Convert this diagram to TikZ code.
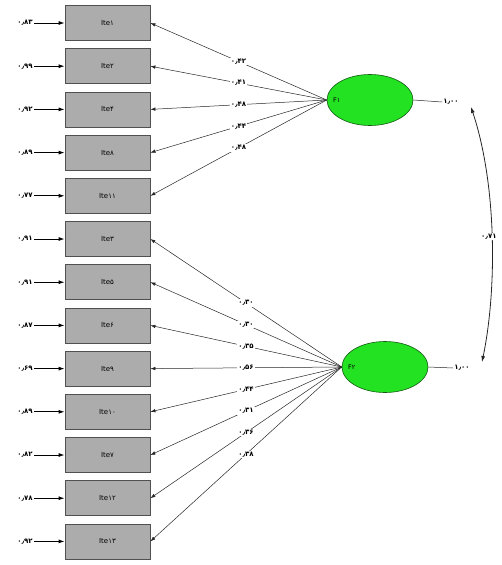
\documentclass[tikz,border=0pt]{standalone}
\usepackage{fontspec}
\newfontfamily\fa{DejaVu Sans}
\usetikzlibrary{shapes.geometric,arrows.meta}
\definecolor{boxfill}{RGB}{172,172,172}
\definecolor{boxline}{RGB}{80,80,80}
\definecolor{latfill}{RGB}{34,226,34}
\definecolor{latline}{RGB}{20,90,20}
\begin{document}
\begin{tikzpicture}[x=1pt,y=-1pt,
  obs/.style={draw=boxline, line width=0.8pt, fill=boxfill, minimum width=85pt, minimum height=35pt, inner sep=0pt, font=\fa\fontsize{7}{8}\selectfont},
  lat/.style={ellipse, draw=latline, line width=0.6pt, fill=latfill, minimum width=86pt, minimum height=51pt, inner sep=0pt},
  errlab/.style={inner sep=1pt, font=\fa\bfseries\fontsize{7}{8}\selectfont},
  lab/.style={fill=white, inner sep=1pt, font=\fa\bfseries\fontsize{7}{8}\selectfont},
  arr/.style={-{Latex[length=5pt,width=3.5pt]}, line width=0.5pt, draw=black!85},
  errarr/.style={-{Latex[length=6pt,width=4pt]}, line width=0.9pt, draw=black}
]
\useasboundingbox (0,0) rectangle (502,565);

% observed variables
\foreach \i/\t in {1/Ite۱,2/Ite۲,3/Ite۴,4/Ite۸,5/Ite۱۱,6/Ite۳,7/Ite۵,8/Ite۶,9/Ite۹,10/Ite۱۰,11/Ite۷,12/Ite۱۲,13/Ite۱۳}{
  \node[obs] (b\i) at (107.5,{23+43.2*(\i-1)}) {\t};
}

% error variances
\foreach \i/\v in {1/۰٫۸۳,2/۰٫۹۹,3/۰٫۹۲,4/۰٫۸۹,5/۰٫۷۷,6/۰٫۹۱,7/۰٫۹۱,8/۰٫۸۷,9/۰٫۶۹,10/۰٫۸۹,11/۰٫۸۲,12/۰٫۷۸,13/۰٫۹۲}{
  \node[errlab] (e\i) at (25,{23+43.2*(\i-1)}) {\v};
  \draw[errarr] (e\i.east) -- (b\i.west);
}

% latent variables
\node[lat, label={[anchor=west,xshift=3pt,font=\fa\fontsize{6.5}{7}\selectfont]west:F۱}] (F1) at (370,100) {};
\node[lat, label={[anchor=west,xshift=3pt,font=\fa\fontsize{6.5}{7}\selectfont]west:F۲}] (F2) at (385,367) {};

% loadings
\foreach \i/\v in {1/۰٫۴۲,2/۰٫۴۱,3/۰٫۴۸,4/۰٫۴۴,5/۰٫۴۸}{
  \draw[arr] (F1.west) -- node[lab,pos=0.5]{\v} (b\i.east);
}
\foreach \i/\v in {6/۰٫۳۰,7/۰٫۳۰,8/۰٫۳۵,9/۰٫۵۶,10/۰٫۴۴,11/۰٫۳۱,12/۰٫۳۶,13/۰٫۳۸}{
  \draw[arr] (F2.west) -- node[lab,pos=0.5]{\v} (b\i.east);
}

% latent variances and correlation
\node[lab] (v1) at (451,102) {۱٫۰۰};
\node[lab] (v2) at (462,368) {۱٫۰۰};
\draw[line width=0.5pt, draw=black!85] (F1.east) -- (v1.west);
\draw[line width=0.5pt, draw=black!85] (F2.east) -- (v2.west);
\coordinate (c1) at (471,107);
\coordinate (c2) at (482,362);
\draw[{Latex[length=6pt,width=4pt]}-{Latex[length=6pt,width=4pt]}, line width=0.8pt, draw=black!85]
  (c1) .. controls (497,185) and (497,290) .. node[lab,pos=0.5,xshift=-3pt]{۰٫۷۱} (c2);
\end{tikzpicture}
\end{document}
